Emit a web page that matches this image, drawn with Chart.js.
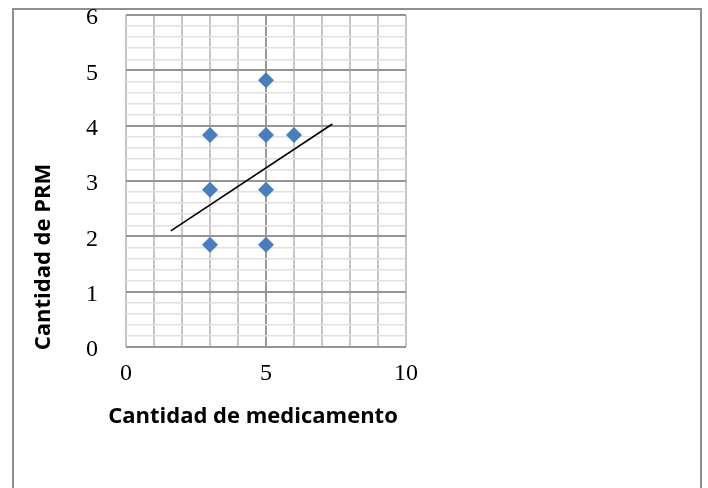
<!DOCTYPE html>
<html>
<head>
<meta charset="utf-8">
<title>Cantidad de PRM vs medicamento</title>
<style>
  body { margin: 0; background: #fff; }
  #wrap { width: 708px; height: 488px; position: relative; }
</style>
<script src="https://cdn.jsdelivr.net/npm/chart.js@4/dist/chart.umd.min.js"></script>
</head>
<body>
<div id="wrap"><canvas id="myChart" width="708" height="488"></canvas></div>
<script>
// medicamento (x) vs PRM (y)
var medicamento = [3, 3, 3, 5, 5, 5, 5, 6];
var prm = [3.83, 2.84, 1.85, 4.82, 3.83, 2.84, 1.85, 3.83];

// linear trend line end points
var trendX = [1.6, 7.37];
var trendY = [2.10, 4.03];

var xTicks = [0, 5, 10];
var yMin = 0, yMax = 6;

var xTitle = 'Cantidad de medicamento';
var yTitle = 'Cantidad de PRM';

var points = medicamento.map(function (x, i) { return { x: x, y: prm[i] }; });
var trend = trendX.map(function (x, i) { return { x: x, y: trendY[i] }; });

function isWhole(v) { return Math.abs(v - Math.round(v)) < 1e-6; }

// outer frame + axis titles
var decor = {
  id: 'decor',
  beforeDraw: function (chart) {
    var c = chart.ctx;
    c.save();
    c.strokeStyle = '#8f8f8f';
    c.lineWidth = 2;
    c.beginPath();
    c.moveTo(13, 488);
    c.lineTo(13, 9);
    c.lineTo(701, 9);
    c.lineTo(701, 488);
    c.stroke();
    c.restore();
  },
  afterDraw: function (chart) {
    var c = chart.ctx;
    c.save();
    c.fillStyle = '#000';
    c.font = 'bold 22px "Open Sans"';
    c.textAlign = 'center';
    c.textBaseline = 'middle';
    c.fillText(xTitle, 253, 417);
    c.translate(44, 257);
    c.rotate(-Math.PI / 2);
    c.fillText(yTitle, 0, 0);
    c.restore();
  }
};

var ctx = document.getElementById('myChart').getContext('2d');
var chart = new Chart(ctx, {
  type: 'scatter',
  data: {
    datasets: [{
      label: 'PRM',
      data: points,
      pointStyle: 'rectRot',
      pointRadius: 8,
      pointHoverRadius: 8,
      backgroundColor: '#4a7ebb',
      borderColor: '#4a7ebb',
      borderWidth: 0,
      order: 1
    }, {
      label: 'Lineal',
      type: 'line',
      data: trend,
      borderColor: '#000',
      borderWidth: 1.6,
      pointRadius: 0,
      fill: false,
      order: 0
    }]
  },
  options: {
    responsive: false,
    animation: false,
    layout: { padding: { left: 0, top: 15, right: 708 - 406, bottom: 0 } },
    plugins: {
      legend: { display: false },
      tooltip: { enabled: false }
    },
    scales: {
      x: {
        type: 'linear',
        min: 0,
        max: 10,
        afterFit: function (s) {
          s.height = 488 - 347;
          s.paddingLeft = 0;
          s.paddingRight = 0;
        },
        afterBuildTicks: function (s) {
          s.ticks = [];
          for (var v = 0; v <= 10; v++) s.ticks.push({ value: v });
        },
        ticks: {
          padding: 12,
          color: '#000',
          font: { family: '"Liberation Serif"', size: 24 },
          callback: function (v) { return xTicks.indexOf(v) >= 0 ? String(v) : ''; },
          autoSkip: false,
          maxRotation: 0
        },
        grid: {
          drawTicks: false,
          lineWidth: 2,
          color: function (c) { return c.tick && c.tick.value === 5 ? '#9a9a9a' : '#c6c6c6'; }
        },
        border: { display: false }
      },
      y: {
        type: 'linear',
        min: yMin,
        max: yMax,
        afterFit: function (s) {
          s.width = 126;
          s.paddingTop = 0;
          s.paddingBottom = 0;
        },
        afterBuildTicks: function (s) {
          s.ticks = [];
          for (var i = 0; i <= 30; i++) s.ticks.push({ value: i / 5 });
        },
        ticks: {
          padding: 28,
          labelOffset: 3,
          color: '#000',
          font: { family: '"Liberation Serif"', size: 24 },
          autoSkip: false,
          callback: function (v) { return isWhole(v) ? String(Math.round(v)) : ''; }
        },
        grid: {
          drawTicks: false,
          lineWidth: function (c) { return c.tick && isWhole(c.tick.value) ? 2 : 1.5; },
          color: function (c) { return c.tick && isWhole(c.tick.value) ? '#959595' : '#e0e0e0'; }
        },
        border: { display: false }
      }
    }
  },
  plugins: [decor]
});
</script>
</body>
</html>
